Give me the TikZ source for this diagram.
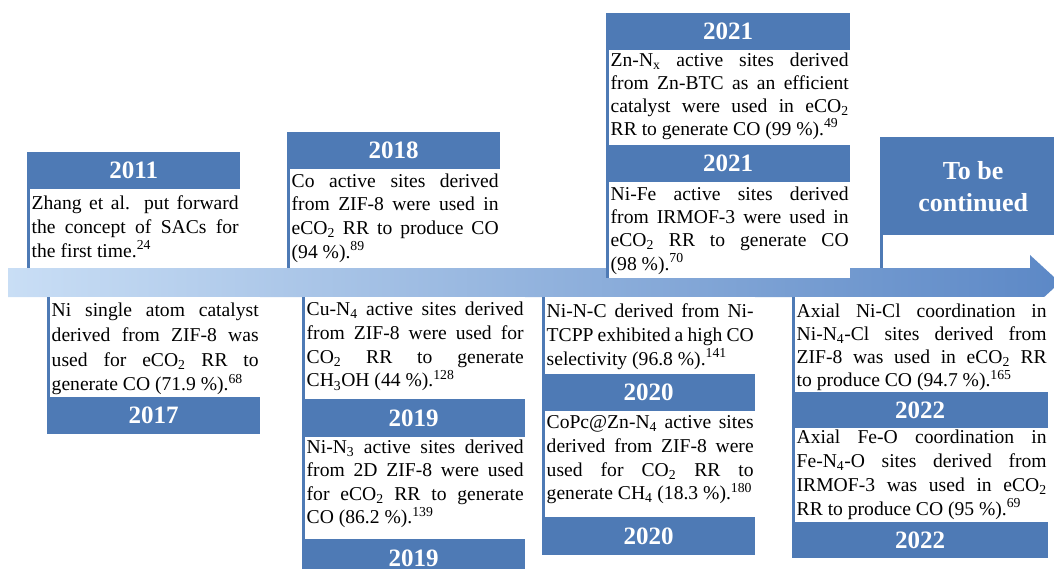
\documentclass[tikz,border=0pt]{standalone}
\usepackage{fontspec}
\setmainfont{Liberation Serif}
\newlength{\du}
\setlength{\du}{1pt}

\begin{document}
\begin{tikzpicture}[
  yearbox/.style={fill=boxblue, text=white, anchor=north west, inner sep=0pt,
    minimum height=37\du, font=\fontsize{25}{30}\selectfont\bfseries},
  notebox/.style={fill=white, anchor=north west, align=justify, inner xsep=1.5\du,
    font=\fontsize{19.6}{24}\selectfont,
    execute at begin node={\tolerance=10000\hyphenpenalty=10000}},
  stem/.style={draw=boxblue, line width=3\du}
]
\pgftransformxscale{1.000000}
\pgftransformyscale{-1.000000}
\definecolor{boxblue}{RGB}{78,122,181}
\definecolor{bandlight}{RGB}{201,222,245}
\definecolor{banddark}{RGB}{92,136,198}
\useasboundingbox (0\du,0\du) rectangle (1054\du,569\du);
% time axis
\coordinate (bandtop) at (0\du,268\du);
\coordinate (bandbot) at (0\du,297\du);
\shade[left color=bandlight, right color=banddark] (8\du,268\du)--(1030\du,268\du)--(1030\du,255\du)--(1060\du,282.5\du)--(1030\du,310\du)--(1030\du,297\du)--(8\du,297\du)--cycle;
% above the axis
\node[yearbox, minimum width=213\du] (h2011) at (27\du,152\du) {2011};
\node[notebox, text width=207\du, inner ysep=6\du] (t2011) at ([xshift=3\du]h2011.south west) {Zhang et al. put forward\linebreak the concept of SACs for\linebreak the first time.\textsuperscript{24}};
\node[yearbox, minimum width=213\du] (h2018) at (287\du,132\du) {2018};
\node[notebox, text width=207\du, inner ysep=4\du, font=\fontsize{19.6}{23.7}\selectfont] (t2018) at ([xshift=3\du]h2018.south west) {Co active sites derived\linebreak from ZIF-8 were used in\linebreak eCO\textsubscript{2} RR to produce CO\linebreak (94~\%).\textsuperscript{89}};
\node[yearbox, minimum width=244\du] (h2021a) at (606\du,13\du) {2021};
\node[notebox, text width=238\du, inner ysep=2\du, font=\fontsize{19.6}{23}\selectfont] (t2021a) at ([xshift=3\du]h2021a.south west) {Zn-N\textsubscript{x} active sites derived\linebreak from Zn-BTC as an efficient\linebreak catalyst were used in eCO\textsubscript{2}\linebreak RR to generate CO (99~\%).\textsuperscript{49}};
\node[yearbox, minimum width=244\du] (h2021b) at (606\du,145\du) {2021};
\node[notebox, text width=238\du, inner ysep=4\du, font=\fontsize{19.6}{23.3}\selectfont] (t2021b) at ([xshift=3\du]h2021b.south west) {Ni-Fe active sites derived\linebreak from IRMOF-3 were used in\linebreak eCO\textsubscript{2} RR to generate CO\linebreak (98~\%).\textsuperscript{70}};
\node[yearbox, minimum width=186\du, minimum height=98\du, align=center, font=\fontsize{26}{32}\selectfont\bfseries] (hcont) at (880\du,137\du) {To be\\continued};
% below the axis
\node[notebox, text width=207\du, inner ysep=6\du, font=\fontsize{19.6}{24.7}\selectfont] (t2017) at ([xshift=50\du]bandbot) {Ni single atom catalyst\linebreak derived from ZIF-8 was\linebreak used for eCO\textsubscript{2} RR to\linebreak generate CO (71.9~\%).\textsuperscript{68}};
\node[yearbox, minimum width=213\du] (h2017) at (47\du,397\du) {2017};
\node[notebox, text width=217\du, inner ysep=5\du, font=\fontsize{19.6}{23.7}\selectfont] (t2019a) at ([xshift=305\du]bandbot) {Cu-N\textsubscript{4} active sites derived\linebreak from ZIF-8 were used for\linebreak CO\textsubscript{2} RR to generate\linebreak CH\textsubscript{3}OH (44~\%).\textsuperscript{128}};
\node[yearbox, minimum width=223\du, minimum height=38\du] (h2019a) at (302\du,399\du) {2019};
\node[notebox, text width=217\du, inner ysep=2\du, font=\fontsize{19.6}{23.5}\selectfont] (t2019b) at ([xshift=3\du]h2019a.south west) {Ni-N\textsubscript{3} active sites derived\linebreak from 2D ZIF-8 were used\linebreak for eCO\textsubscript{2} RR to generate\linebreak CO (86.2~\%).\textsuperscript{139}};
\node[yearbox, minimum width=223\du, minimum height=38\du] (h2019b) at (302\du,539\du) {2019};
\node[notebox, text width=207\du, inner ysep=6\du] (t2020a) at ([xshift=545\du]bandbot) {Ni-N-C derived from Ni-\linebreak TCPP exhibited a high CO\linebreak selectivity (96.8~\%).\textsuperscript{141}};
\node[yearbox, minimum width=213\du] (h2020a) at (542\du,374\du) {2020};
\node[notebox, text width=207\du, inner ysep=4\du, font=\fontsize{19.6}{23.7}\selectfont] (t2020b) at ([xshift=3\du]h2020a.south west) {CoPc@Zn-N\textsubscript{4} active sites\linebreak derived from ZIF-8 were\linebreak used for CO\textsubscript{2} RR to\linebreak generate CH\textsubscript{4} (18.3~\%).\textsuperscript{180}};
\node[yearbox, minimum width=213\du, minimum height=38\du] (h2020b) at (542\du,517\du) {2020};
\node[notebox, text width=250\du, inner ysep=7\du, font=\fontsize{19.6}{23}\selectfont] (t2022a) at ([xshift=795\du]bandbot) {Axial Ni-Cl coordination in\linebreak Ni-N\textsubscript{4}-Cl sites derived from\linebreak ZIF-8 was used in eCO\textsubscript{2} RR\linebreak to produce CO (94.7~\%).\textsuperscript{165}};
\node[yearbox, minimum width=256\du, minimum height=36\du] (h2022a) at (792\du,392\du) {2022};
\node[notebox, text width=250\du, inner ysep=1\du] (t2022b) at ([xshift=3\du]h2022a.south west) {Axial Fe-O coordination in\linebreak Fe-N\textsubscript{4}-O sites derived from\linebreak IRMOF-3 was used in eCO\textsubscript{2}\linebreak RR to produce CO (95~\%).\textsuperscript{69}};
\node[yearbox, minimum width=256\du, minimum height=36\du] (h2022b) at (792\du,522\du) {2022};
% stems to the axis
\draw[stem] ([xshift=1.5\du]h2011.south west) -- ([xshift=1.5\du]h2011.south west |- bandtop);
\draw[stem] ([xshift=1.5\du]h2018.south west) -- ([xshift=1.5\du]h2018.south west |- bandtop);
\draw[stem] ([xshift=1.5\du]h2021a.south west) -- ([xshift=1.5\du]h2021a.south west |- t2021b.south);
\draw[stem] ([xshift=1.5\du]hcont.south west) -- ([xshift=1.5\du]hcont.south west |- bandtop);
\draw[stem] ([xshift=1.5\du]h2017.north west |- bandbot) -- ([xshift=1.5\du]h2017.north west);
\draw[stem] ([xshift=1.5\du]h2019b.north west |- bandbot) -- ([xshift=1.5\du]h2019b.north west);
\draw[stem] ([xshift=1.5\du]h2020b.north west |- bandbot) -- ([xshift=1.5\du]h2020b.north west);
\draw[stem] ([xshift=1.5\du]h2022b.north west |- bandbot) -- ([xshift=1.5\du]h2022b.north west);
\end{tikzpicture}
\end{document}
